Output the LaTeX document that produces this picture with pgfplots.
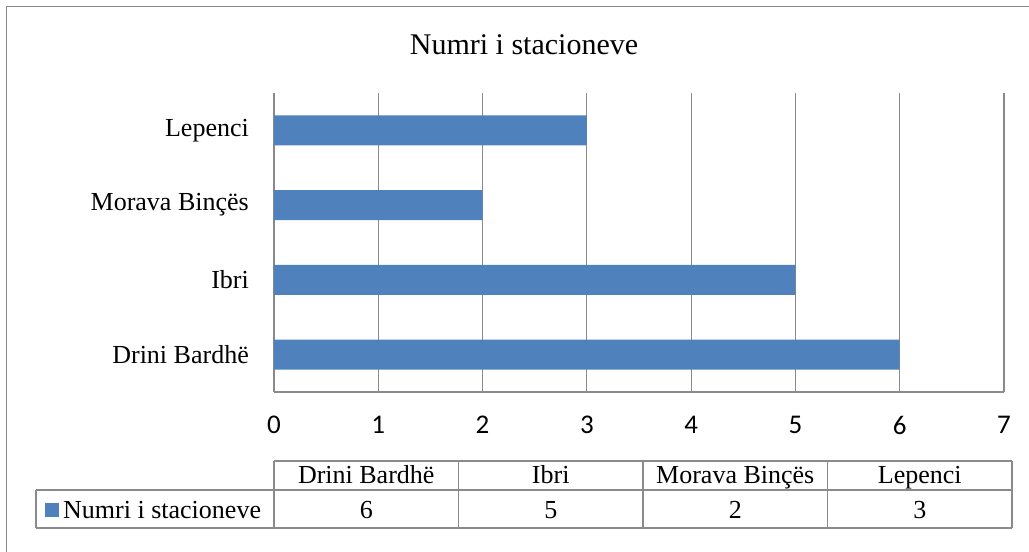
\documentclass[border=0pt]{standalone}
\usepackage{pgfplots}
\pgfplotsset{compat=1.18}
\usepackage{fontspec}
\setmainfont{Liberation Serif}
\newfontfamily\tnr{Liberation Serif}
\newfontfamily\carlito{Carlito}
\definecolor{barblue}{HTML}{4F81BD}
\definecolor{gridgray}{HTML}{8A8A8A}
\begin{document}
\begin{tikzpicture}[x=1pt,y=1pt]
\useasboundingbox (0,0) rectangle (1029,552);
\draw[gridgray, line width=1.4pt] (6.5,0) -- (6.5,545.7) -- (1029,545.7);
\node[anchor=base, inner sep=0pt, font=\tnr\fontsize{30}{36}\selectfont] at (524,497.7) {Numri i stacioneve};
\begin{axis}[
  at={(274pt,160pt)}, anchor=south west,
  scale only axis, width=730pt, height=299pt,
  xbar, bar width=30pt,
  xmin=0, xmax=7, ymin=-0.5, ymax=3.5,
  xtick={0,1,2,3,4,5,6,7}, ytick={0,1,2,3},
  yticklabels={Drini Bardhë, Ibri, Morava Binçës, Lepenci},
  xmajorgrids, grid style={gridgray, line width=1.1pt},
  axis x line*=bottom, axis y line*=left,
  axis line style={-, gridgray, line width=1.1pt},
  major tick length=0pt,
  /pgf/number format/assume math mode=true,
  xticklabel style={font=\carlito\fontsize{27}{32}\selectfont, anchor=north, inner sep=0pt, yshift=-24pt},
  yticklabel style={font=\tnr\fontsize{26}{31}\selectfont, anchor=east, inner sep=0pt, xshift=-25pt},
]
\addplot[fill=barblue, draw=none] coordinates {(6,0) (5,1) (2,2) (3,3)};
\end{axis}
% data table below the axis
\draw[gridgray, line width=1.1pt] (274,91) -- (1012,91);
\draw[gridgray, line width=1.1pt] (36,62) -- (1012,62);
\draw[gridgray, line width=1.1pt] (36,24) -- (1012,24);
\draw[gridgray, line width=1.1pt] (36,24) -- (36,62);
\foreach \x in {274,458.5,643,827.5,1012} {\draw[gridgray, line width=1.1pt] (\x,24) -- (\x,91);}
\begin{scope}[every node/.style={anchor=base, inner sep=0pt, font=\tnr\fontsize{26}{31}\selectfont}]
\node at (366.25,68) {Drini Bardhë};
\node at (550.75,68) {Ibri};
\node at (735.25,68) {Morava Binçës};
\node at (919.75,68) {Lepenci};
\node at (366.25,34) {6};
\node at (550.75,34) {5};
\node at (735.25,34) {2};
\node at (919.75,34) {3};
\node[anchor=base west] at (63,34) {Numri i stacioneve};
\end{scope}
\fill[barblue] (45,35) rectangle (59,49);
\end{tikzpicture}
\end{document}
